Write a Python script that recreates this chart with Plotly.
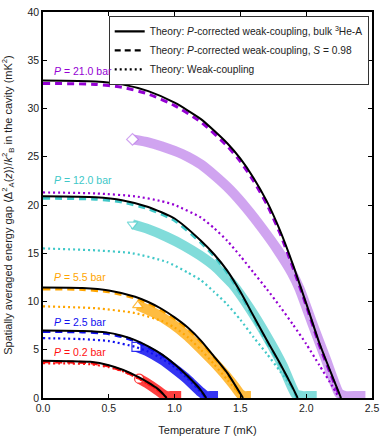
import plotly.graph_objects as go

# ---------------- data ----------------
pressure_labels = ["21.0", "12.0", "5.5", "2.5", "0.2"]
colors = ["#9400D3", "#40C8C8", "#FFA500", "#1010F0", "#FF1010"]
band_colors = ["rgba(170,90,228,0.55)", "rgba(70,204,200,0.68)", "rgba(255,165,0,0.75)",
               "rgba(16,16,240,0.85)", "rgba(255,16,16,0.80)"]
start_symbols = ["diamond", "triangle-down", "triangle-up", "square", "circle"]
label_y = [33.9, 22.6, 12.5, 7.9, 4.8]

# P = 21.0 bar
T21_bulk = [0, 0.4, 0.6, 0.8, 1.0, 1.2, 1.4, 1.5, 1.6, 1.7, 1.8, 1.9, 2.0, 2.1, 2.2, 2.265]
G21_bulk = [32.9, 32.8, 32.5, 31.8, 30.6, 28.9, 26.4, 24.8, 22.8, 20.4, 17.4, 13.8, 9.8, 5.7, 2.2, 0]
T21_s = [0, 0.4, 0.6, 0.8, 1.0, 1.2, 1.4, 1.5, 1.6, 1.7, 1.8, 1.9, 2.0, 2.1, 2.2, 2.26]
G21_s = [32.6, 32.5, 32.2, 31.5, 30.3, 28.6, 26.1, 24.5, 22.5, 20.1, 17.1, 13.5, 9.6, 5.5, 2.0, 0]
T21_wc = [0, 0.4, 0.7, 0.9, 1.0, 1.2, 1.3, 1.4, 1.5, 1.6, 1.7, 1.8, 1.9, 2.0, 2.1, 2.2, 2.25]
G21_wc = [21.3, 21.2, 20.9, 20.4, 20.0, 18.7, 17.6, 16.3, 14.7, 13.0, 11.3, 9.5, 7.6, 5.6, 3.4, 1.2, 0]
T21_exp = [0.68, 0.8, 0.9, 1.0, 1.1, 1.2, 1.3, 1.42, 1.55, 1.67, 1.78, 1.89, 1.95, 2.05, 2.15, 2.25, 2.3, 2.38, 2.45]
G21_exp = [26.8, 26.5, 26.1, 25.6, 25.0, 24.2, 23.1, 21.6, 19.6, 17.5, 15.4, 13.0, 11.3, 7.6, 4.0, 0.5, 0.2, 0.2, 0.2]

# P = 12.0 bar
T12_bulk = [0, 0.4, 0.6, 0.8, 1.0, 1.2, 1.3, 1.4, 1.5, 1.6, 1.7, 1.8, 1.9, 1.935]
G12_bulk = [20.9, 20.8, 20.5, 19.8, 18.6, 16.3, 14.9, 13.2, 11.0, 8.5, 6.0, 3.6, 1.0, 0]
T12_s = [0, 0.4, 0.6, 0.8, 1.0, 1.2, 1.3, 1.4, 1.5, 1.6, 1.7, 1.8, 1.9, 1.93]
G12_s = [20.7, 20.6, 20.3, 19.6, 18.4, 16.1, 14.7, 13.0, 10.8, 8.3, 5.8, 3.5, 0.9, 0]
T12_wc = [0, 0.4, 0.68, 0.94, 1.1, 1.2, 1.3, 1.4, 1.5, 1.6, 1.7, 1.8, 1.9, 1.93]
G12_wc = [15.5, 15.3, 15.0, 14.1, 13.0, 12.2, 11.0, 9.7, 8.1, 6.3, 4.6, 2.8, 0.9, 0]
T12_exp = [0.68, 0.8, 0.94, 1.07, 1.19, 1.3, 1.44, 1.57, 1.7, 1.82, 1.92, 1.97, 2.02, 2.08]
G12_exp = [18.0, 17.5, 16.7, 15.8, 14.8, 13.7, 11.8, 9.3, 6.4, 3.4, 0.4, 0.2, 0.2, 0.2]

# P = 5.5 bar
T55_bulk = [0, 0.3, 0.5, 0.7, 0.8, 0.9, 1.0, 1.1, 1.2, 1.3, 1.4, 1.52]
G55_bulk = [11.45, 11.4, 11.15, 10.5, 9.95, 9.25, 8.35, 7.3, 5.95, 4.3, 2.6, 0]
T55_s = [0, 0.3, 0.5, 0.7, 0.8, 0.9, 1.0, 1.1, 1.2, 1.3, 1.4, 1.51]
G55_s = [11.3, 11.25, 11.0, 10.35, 9.8, 9.1, 8.2, 7.15, 5.8, 4.2, 2.5, 0]
T55_wc = [0, 0.4, 0.7, 0.9, 1.0, 1.1, 1.2, 1.3, 1.4, 1.5, 1.52]
G55_wc = [9.5, 9.3, 8.8, 8.0, 7.3, 6.3, 5.0, 3.5, 1.9, 0.3, 0]
T55_exp = [0.72, 0.85, 0.98, 1.1, 1.19, 1.32, 1.44, 1.5, 1.53, 1.56, 1.58]
G55_exp = [9.6, 8.8, 7.7, 6.4, 5.2, 3.4, 1.5, 0.4, 0.2, 0.2, 0.2]

# P = 2.5 bar
T25_bulk = [0, 0.3, 0.48, 0.6, 0.7, 0.8, 0.9, 1.0, 1.1, 1.2, 1.24]
G25_bulk = [7.0, 6.95, 6.8, 6.45, 6.0, 5.35, 4.55, 3.5, 2.25, 0.8, 0]
T25_s = [0, 0.3, 0.48, 0.6, 0.7, 0.8, 0.9, 1.0, 1.1, 1.2, 1.235]
G25_s = [6.9, 6.85, 6.7, 6.35, 5.9, 5.25, 4.45, 3.4, 2.2, 0.75, 0]
T25_wc = [0, 0.3, 0.5, 0.7, 0.8, 0.9, 1.0, 1.1, 1.2, 1.24]
G25_wc = [6.2, 6.1, 5.9, 5.3, 4.8, 4.1, 3.2, 2.0, 0.6, 0]
T25_exp = [0.71, 0.8, 0.9, 1.0, 1.1, 1.2, 1.24, 1.28, 1.33]
G25_exp = [5.3, 4.8, 4.0, 3.0, 1.9, 0.6, 0.2, 0.2, 0.2]

# P = 0.2 bar
T02_bulk = [0, 0.2, 0.36, 0.5, 0.61, 0.73, 0.8, 0.86, 0.9, 0.94]
G02_bulk = [3.85, 3.82, 3.75, 3.4, 2.9, 2.14, 1.6, 1.07, 0.6, 0]
T02_s = [0, 0.2, 0.36, 0.5, 0.61, 0.73, 0.8, 0.86, 0.9, 0.935]
G02_s = [3.75, 3.72, 3.65, 3.3, 2.8, 2.05, 1.52, 1.0, 0.55, 0]
T02_wc = [0, 0.2, 0.36, 0.5, 0.6, 0.7, 0.8, 0.86, 0.9, 0.94]
G02_wc = [3.6, 3.58, 3.5, 3.2, 2.8, 2.2, 1.45, 0.95, 0.55, 0]
T02_exp = [0.73, 0.8, 0.86, 0.9, 0.94, 0.98, 1.02, 1.05]
G02_exp = [2.0, 1.45, 0.9, 0.5, 0.2, 0.2, 0.2, 0.2]

x_ticks = [0.0, 0.5, 1.0, 1.5, 2.0, 2.5]
y_ticks = [0, 5, 10, 15, 20, 25, 30, 35, 40]

legend_names = [
    "Theory: <i>P</i>-corrected weak-coupling, bulk <sup>3</sup>He-A",
    "Theory: <i>P</i>-corrected weak-coupling, <i>S</i> = 0.98",
    "Theory: Weak-coupling",
]

bulk = [(T21_bulk, G21_bulk), (T12_bulk, G12_bulk), (T55_bulk, G55_bulk), (T25_bulk, G25_bulk), (T02_bulk, G02_bulk)]
scav = [(T21_s, G21_s), (T12_s, G12_s), (T55_s, G55_s), (T25_s, G25_s), (T02_s, G02_s)]
weak = [(T21_wc, G21_wc), (T12_wc, G12_wc), (T55_wc, G55_wc), (T25_wc, G25_wc), (T02_wc, G02_wc)]
expt = [(T21_exp, G21_exp), (T12_exp, G12_exp), (T55_exp, G55_exp), (T25_exp, G25_exp), (T02_exp, G02_exp)]

FONT = "Liberation Sans, Arial, Helvetica, sans-serif"
fig = go.Figure()

# experimental bands
for i in range(5):
    tx, gy = expt[i]
    fig.add_trace(go.Scatter(x=tx, y=gy, mode="lines", showlegend=False,
                             line=dict(color=band_colors[i], width=10, shape="spline", smoothing=0.5)))
    fig.add_trace(go.Scatter(x=[tx[0]], y=[gy[0]], mode="markers", showlegend=False,
                             marker=dict(symbol=start_symbols[i], size=9, color="white",
                                         line=dict(color=band_colors[i], width=1.2))))

# weak coupling (dotted)
for i in range(5):
    tx, gy = weak[i]
    fig.add_trace(go.Scatter(x=tx, y=gy, mode="lines", showlegend=False,
                             line=dict(color=colors[i], width=2.2, dash="2px,3px", shape="spline", smoothing=0.6)))
# S = 0.98 (dashed)
for i in range(5):
    tx, gy = scav[i]
    fig.add_trace(go.Scatter(x=tx, y=gy, mode="lines", showlegend=False,
                             line=dict(color=colors[i], width=3, dash="7px,5px", shape="spline", smoothing=0.6)))
# bulk (solid black)
for i in range(5):
    tx, gy = bulk[i]
    fig.add_trace(go.Scatter(x=tx, y=gy, mode="lines", showlegend=False,
                             line=dict(color="black", width=2, shape="spline", smoothing=0.6)))

# legend entries
for name, dash in zip(legend_names, ["solid", "6px,4px", "2px,3px"]):
    fig.add_trace(go.Scatter(x=[None], y=[None], mode="lines", name=name,
                             line=dict(color="black", width=2.2, dash=dash)))

for i in range(5):
    fig.add_annotation(x=0.07, y=label_y[i], xref="x", yref="y", xanchor="left", yanchor="middle",
                       text="<i>P</i> = " + pressure_labels[i] + " bar", showarrow=False,
                       font=dict(size=10.5, color=colors[i], family=FONT))

axis_common = dict(showgrid=False, zeroline=False, showline=True, linecolor="black", linewidth=1.5,
                   mirror="allticks", ticks="inside", ticklen=4, tickwidth=1, tickcolor="black",
                   automargin=False,
                   tickfont=dict(size=10.5, color="#222", family=FONT))
fig.update_xaxes(range=[0, 2.5], tickvals=x_ticks, ticktext=[f"{v:.1f}" for v in x_ticks],
                 title=dict(text="Temperature <i>T</i> (mK)", font=dict(size=11, family=FONT, color="#222")),
                 **axis_common)
fig.update_yaxes(range=[0, 40], tickvals=y_ticks,
                 title=dict(text="Spatially averaged energy gap ⟨Δ<sup>2</sup><sub>A</sub>(<i>z</i>)⟩/<i>k</i><sup>2</sup><sub>B</sub> in the cavity (mK<sup>2</sup>)",
                            font=dict(size=11, family=FONT, color="#222")), **axis_common)

fig.update_layout(
    width=380, height=436,
    margin=dict(l=43, r=8, t=12, b=38),
    plot_bgcolor="white", paper_bgcolor="white",
    font=dict(family=FONT, size=10.5, color="#222"),
    legend=dict(x=0.99, y=0.99, xanchor="right", yanchor="top", bgcolor="white",
                bordercolor="#333", borderwidth=1, font=dict(size=10.2, family=FONT, color="#222"),
                itemwidth=30, tracegroupgap=0),
)

fig.write_html("out.html", config={"displayModeBar": False},
               post_script="document.body.style.margin='0';")
